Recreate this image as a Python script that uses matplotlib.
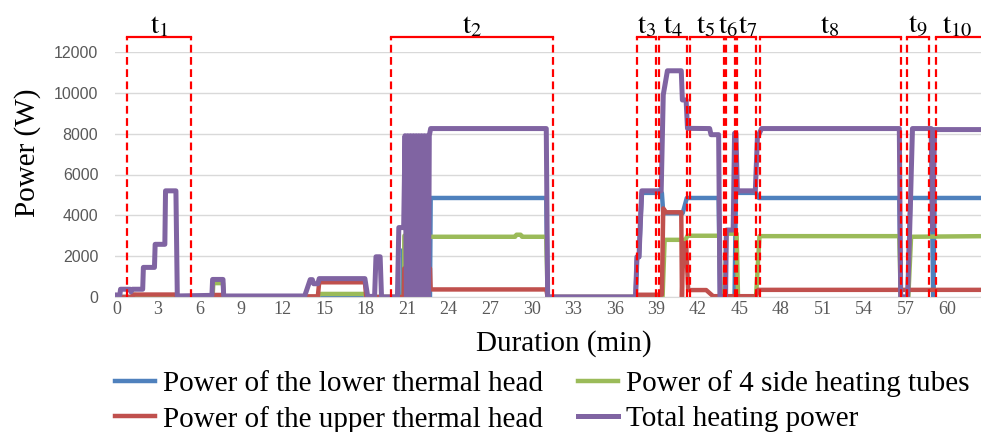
import numpy as np
import matplotlib.pyplot as plt

plt.rcParams['font.family'] = ['Liberation Serif', 'DejaVu Serif']
plt.rcParams['mathtext.fontset'] = 'stix'

# ---- data (minutes, W) ----
lower_t = [0, 20.65, 20.7, 20.8, 20.85, 22.65, 22.7, 31.05, 31.15, 37.5, 37.6, 37.75, 37.85, 37.95,
           39.4, 39.5, 40.9, 41.2, 43.5, 43.6, 44.65, 44.75, 46.2, 46.4, 56.55, 56.65, 57.15, 57.35,
           58.9, 59.0, 59.1, 62.6]
lower_v = [0, 0, 2300, 2300, 0, 0, 4850, 4850, 0, 0, 1950, 1950, 3650, 5100,
           5100, 4100, 4100, 4850, 4850, 0, 0, 5100, 5100, 4850, 4850, 0, 0, 4850,
           4850, 0, 4850, 4850]

side_t = [0, 1.15, 1.2, 1.4, 1.45, 6.95, 7.0, 7.7, 7.75, 14.55, 14.65, 17.95, 18.05, 20.75, 20.8,
          22.7, 28.8, 28.9, 29.2, 29.3, 31.05, 31.15, 39.45, 39.6, 41.1, 41.25, 43.55, 43.65, 43.95,
          44.05, 44.8, 44.9, 46.2, 46.45, 56.55, 56.65, 57.2, 57.4, 62.6]
side_v = [0, 0, 100, 100, 0, 0, 680, 680, 0, 0, 150, 150, 0, 0, 3000,
          2950, 2950, 3050, 3050, 2950, 2950, 0, 0, 2800, 2800, 3000, 3000, 0, 0,
          3100, 3100, 0, 0, 2980, 2980, 0, 0, 2950, 2980]

upper_t = [0, 1.15, 1.2, 4.3, 4.4, 6.9, 6.95, 7.7, 7.75, 14.55, 14.65, 17.95, 18.05, 20.75, 20.8,
           22.65, 22.7, 31.05, 31.15, 37.55, 37.6, 39.4, 39.5, 39.7, 40.8, 40.85, 40.95, 41.15, 41.3,
           42.6, 43.1, 46.2, 46.35, 62.6]
upper_v = [0, 0, 120, 120, 40, 40, 100, 100, 30, 30, 720, 720, 0, 0, 1400,
           1400, 370, 370, 0, 0, 110, 110, 4340, 4150, 4150, 0, 2630, 2630, 340,
           340, 40, 40, 350, 350]

total_t = [0, 0.25, 0.3, 1.0, 1.05, 1.15, 1.9, 1.95, 2.75, 2.8, 3.5, 3.55, 4.3, 4.4, 6.9, 6.95,
           7.7, 7.75, 13.6, 14.0, 14.15, 14.25, 14.55, 14.65, 17.95, 18.15, 18.65, 18.75, 19.05,
           19.15, 20.3, 20.4, 20.75,
           20.85, 20.95, 21.05, 21.15, 21.25, 21.35, 21.45, 21.55, 21.65, 21.75, 21.85, 21.95,
           22.05, 22.15, 22.25, 22.35, 22.45, 22.55, 22.6,
           22.7, 31.05, 31.15, 37.5, 37.6, 37.75, 37.85, 37.95, 39.35, 39.5, 39.8, 40.8, 40.88,
           41.15, 41.25, 42.85, 42.95, 43.5, 43.6, 44.0, 44.06, 44.55, 44.65, 44.75, 44.85, 46.15,
           46.3, 46.6, 56.55, 56.65, 57.15, 57.3, 57.5, 58.85, 58.95, 59.1, 62.6]
total_v = [100, 100, 380, 380, 250, 380, 380, 1450, 1450, 2580, 2580, 5200, 5200, 50, 80, 860,
           860, 50, 50, 850, 850, 650, 650, 900, 900, 30, 30, 1970, 1970,
           0, 0, 3400, 3400,
           7900, 0, 7900, 0, 7900, 0, 7900, 0, 7900, 0, 7900, 0,
           7900, 0, 7900, 0, 7900, 0, 7900,
           8250, 8250, 0, 0, 1970, 1970, 3700, 5200, 5200, 9900, 11080, 11080, 9650,
           9650, 8260, 8250, 7950, 7950, 0, 0, 3280, 3280, 8020, 8020, 5200, 5200,
           7800, 8250, 8250, 0, 0, 3300, 8250, 8250, 3300, 8200, 8200]

# stage brackets (start, end) in minutes
stages = ['1', '2', '3', '4', '5', '6', '7', '8', '9', '10']
stage_start = [0.79, 19.84, 37.61, 39.2, 41.46, 44.06, 44.83, 46.51, 57.14, 59.21]
stage_end = [5.41, 31.51, 39.0, 41.22, 43.86, 44.66, 46.22, 56.69, 58.73, 63.5]
label_x = [3.1, 25.7, 38.3, 40.2, 42.6, 44.2, 45.6, 51.5, 57.9, 60.7]

fig = plt.figure(figsize=(9.81, 4.32), dpi=100)
ax = fig.add_axes([115/981, 1-297/432, 866/981, 245/432])

ax.plot(lower_t, lower_v, color='#4F81BD', lw=3.2, label='Power of the lower thermal head')
ax.plot(side_t, side_v, color='#9BBB59', lw=3.2, label='Power of 4 side heating tubes')
ax.plot(upper_t, upper_v, color='#C0504D', lw=3.2, label='Power of the upper thermal head')
ax.plot(total_t, total_v, color='#8064A2', lw=3.6, label='Total heating power')

top = 12750
for s, e, n, lx in zip(stage_start, stage_end, stages, label_x):
    ax.plot([s, e], [top, top], color='red', lw=1.6, clip_on=False, zorder=5)
    for xx in (s, e):
        ax.plot([xx, xx], [0, top], color='red', lw=1.6, ls=(0, (3.5, 2)), clip_on=False, zorder=5)
    ax.text(lx, 12950, r'$\mathrm{t}_{%s}$' % n, ha='center', va='baseline', fontsize=21)

ax.set_xlim(-0.1, 62.45)
ax.set_ylim(0, 12000)
ax.set_xticks(np.arange(0, 61, 3))
ax.set_yticks(np.arange(0, 12001, 2000))
ax.grid(axis='y', color='#D9D9D9', lw=1)
ax.set_axisbelow(True)
for sp in ['top', 'right', 'left']:
    ax.spines[sp].set_visible(False)
ax.spines['bottom'].set_color('#D9D9D9')
ax.tick_params(length=0)
ax.tick_params(axis='x', labelsize=13, labelcolor='#595959', pad=3)
ax.tick_params(axis='y', labelsize=11.5, labelcolor='#595959', pad=12)
for lab in ax.get_yticklabels():
    lab.set_family('Liberation Sans')

ax.set_ylabel('Power (W)', fontsize=21)
ax.yaxis.set_label_coords(-0.085, 0.588)
ax.set_xlabel('Duration (min)', fontsize=21)
ax.xaxis.set_label_coords(0.518, -0.135)

h, l = ax.get_legend_handles_labels()
order = [0, 2, 1, 3]
fig.legend([h[i] for i in order], [l[i] for i in order], ncol=2, loc='upper left',
           bbox_to_anchor=(115/981, 1-370/432), frameon=False, fontsize=21,
           handlelength=1.37, handletextpad=0.27, columnspacing=1.2,
           labelspacing=0.3, borderpad=0, borderaxespad=0)

fig.savefig('out.png', dpi=100)
